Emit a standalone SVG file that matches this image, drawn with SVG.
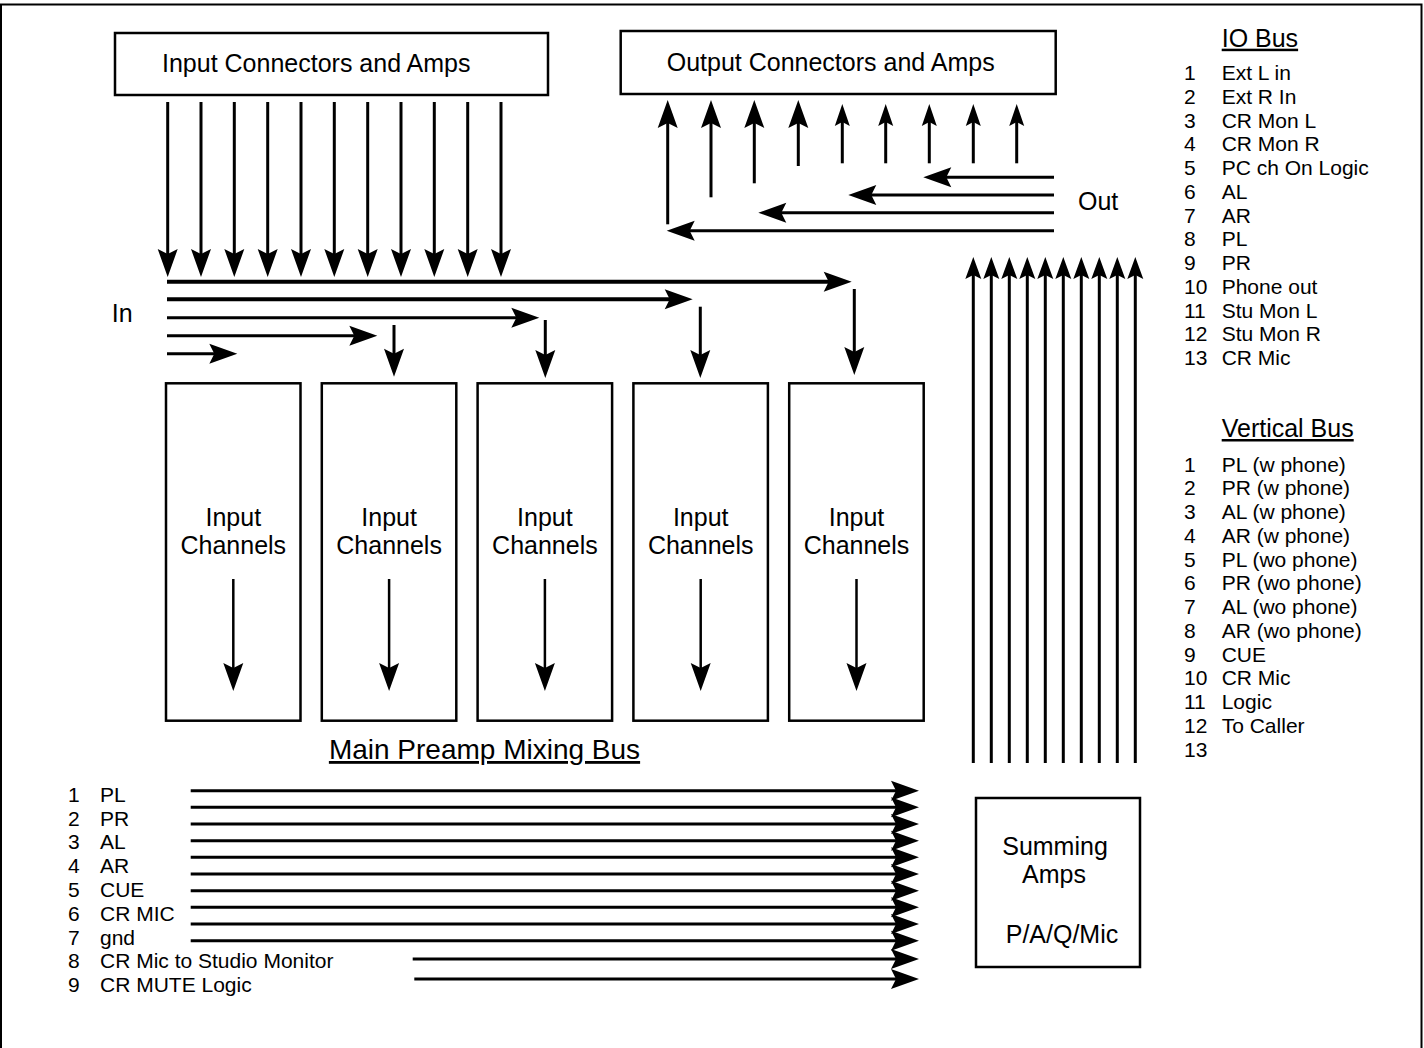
<svg xmlns="http://www.w3.org/2000/svg" width="1424" height="1048" viewBox="0 0 1424 1048">
<style>
text{font-family:"Liberation Sans",Arial,sans-serif;fill:#000}
.t25{font-size:25px}
.t28{font-size:28px}
.t21{font-size:21px}
.box{fill:#fff;stroke:#000;stroke-width:2.5}
.c{stroke:#000;stroke-width:3;fill:none}
.c4{stroke:#000;stroke-width:4;fill:none}
.c2{stroke:#000;stroke-width:2.5;fill:none}
.ab{marker-end:url(#ab)}
.as{marker-end:url(#as)}
.av{marker-end:url(#av)}
</style>
<defs>
<marker id="ab" markerUnits="userSpaceOnUse" markerWidth="28" markerHeight="20" refX="20" refY="10" orient="auto" overflow="visible"><path d="M0,0 L28,10 L0,20 L5,10 Z" fill="#000"/></marker>
<marker id="as" markerUnits="userSpaceOnUse" markerWidth="22" markerHeight="15" refX="14" refY="7.5" orient="auto" overflow="visible"><path d="M0,0 L22,7.5 L0,15 L4,7.5 Z" fill="#000"/></marker>
<marker id="av" markerUnits="userSpaceOnUse" markerWidth="22" markerHeight="16" refX="14" refY="8" orient="auto" overflow="visible"><path d="M0,0 L22,8 L0,16 L4,8 Z" fill="#000"/></marker>
</defs>
<rect x="1" y="4.5" width="1420.5" height="1050" fill="none" stroke="#000" stroke-width="2"/>

<g id="input-connectors"><rect class="box" x="115" y="33" width="433" height="62"/><text class="t25" x="162" y="72">Input Connectors and Amps</text></g>
<g id="output-connectors"><rect class="box" x="620.7" y="31" width="435" height="63"/><text class="t25" x="666.7" y="71">Output Connectors and Amps</text></g>
<g id="ch1"><rect class="box" x="166" y="383.3" width="134.5" height="337.4"/><text class="t25" text-anchor="middle" x="233.3" y="526">Input</text><text class="t25" text-anchor="middle" x="233.3" y="554">Channels</text></g>
<g id="ch2"><rect class="box" x="321.8" y="383.3" width="134.5" height="337.4"/><text class="t25" text-anchor="middle" x="389.1" y="526">Input</text><text class="t25" text-anchor="middle" x="389.1" y="554">Channels</text></g>
<g id="ch3"><rect class="box" x="477.6" y="383.3" width="134.5" height="337.4"/><text class="t25" text-anchor="middle" x="544.9" y="526">Input</text><text class="t25" text-anchor="middle" x="544.9" y="554">Channels</text></g>
<g id="ch4"><rect class="box" x="633.4" y="383.3" width="134.5" height="337.4"/><text class="t25" text-anchor="middle" x="700.7" y="526">Input</text><text class="t25" text-anchor="middle" x="700.7" y="554">Channels</text></g>
<g id="ch5"><rect class="box" x="789.2" y="383.3" width="134.5" height="337.4"/><text class="t25" text-anchor="middle" x="856.5" y="526">Input</text><text class="t25" text-anchor="middle" x="856.5" y="554">Channels</text></g>
<g id="summing"><rect class="box" x="976" y="798" width="164" height="169"/><text class="t25" text-anchor="middle" x="1055" y="855">Summing</text><text class="t25" text-anchor="middle" x="1054" y="883">Amps</text><text class="t25" text-anchor="middle" x="1062" y="943">P/A/Q/Mic</text></g>

<g id="labels">
<text class="t25" x="111.7" y="321.7">In</text>
<text class="t25" x="1078" y="210">Out</text>
<text class="t25" x="1221.7" y="46.7" text-decoration="underline">IO Bus</text>
<text class="t25" x="1221.7" y="437" text-decoration="underline">Vertical Bus</text>
<text class="t28" text-anchor="middle" x="484.5" y="759" text-decoration="underline">Main Preamp Mixing Bus</text>
</g>
<g id="io-bus-list" class="t21">
<text x="1184" y="80">1</text><text x="1221.7" y="80">Ext L in</text>
<text x="1184" y="103.75">2</text><text x="1221.7" y="103.75">Ext R In</text>
<text x="1184" y="127.5">3</text><text x="1221.7" y="127.5">CR Mon L</text>
<text x="1184" y="151.25">4</text><text x="1221.7" y="151.25">CR Mon R</text>
<text x="1184" y="175">5</text><text x="1221.7" y="175">PC ch On Logic</text>
<text x="1184" y="198.75">6</text><text x="1221.7" y="198.75">AL</text>
<text x="1184" y="222.5">7</text><text x="1221.7" y="222.5">AR</text>
<text x="1184" y="246.25">8</text><text x="1221.7" y="246.25">PL</text>
<text x="1184" y="270">9</text><text x="1221.7" y="270">PR</text>
<text x="1184" y="293.75">10</text><text x="1221.7" y="293.75">Phone out</text>
<text x="1184" y="317.5">11</text><text x="1221.7" y="317.5">Stu Mon L</text>
<text x="1184" y="341.25">12</text><text x="1221.7" y="341.25">Stu Mon R</text>
<text x="1184" y="365">13</text><text x="1221.7" y="365">CR Mic</text>
</g>
<g id="vertical-bus-list" class="t21">
<text x="1184" y="471.5">1</text><text x="1221.7" y="471.5">PL (w phone)</text>
<text x="1184" y="495.25">2</text><text x="1221.7" y="495.25">PR (w phone)</text>
<text x="1184" y="519">3</text><text x="1221.7" y="519">AL (w phone)</text>
<text x="1184" y="542.75">4</text><text x="1221.7" y="542.75">AR (w phone)</text>
<text x="1184" y="566.5">5</text><text x="1221.7" y="566.5">PL (wo phone)</text>
<text x="1184" y="590.25">6</text><text x="1221.7" y="590.25">PR (wo phone)</text>
<text x="1184" y="614">7</text><text x="1221.7" y="614">AL (wo phone)</text>
<text x="1184" y="637.75">8</text><text x="1221.7" y="637.75">AR (wo phone)</text>
<text x="1184" y="661.5">9</text><text x="1221.7" y="661.5">CUE</text>
<text x="1184" y="685.25">10</text><text x="1221.7" y="685.25">CR Mic</text>
<text x="1184" y="709">11</text><text x="1221.7" y="709">Logic</text>
<text x="1184" y="732.75">12</text><text x="1221.7" y="732.75">To Caller</text>
<text x="1184" y="756.5">13</text>
</g>
<g id="main-bus-list" class="t21">
<text x="68" y="801.7">1</text><text x="100" y="801.7">PL</text>
<text x="68" y="825.5">2</text><text x="100" y="825.5">PR</text>
<text x="68" y="849.3">3</text><text x="100" y="849.3">AL</text>
<text x="68" y="873.1">4</text><text x="100" y="873.1">AR</text>
<text x="68" y="896.9">5</text><text x="100" y="896.9">CUE</text>
<text x="68" y="920.7">6</text><text x="100" y="920.7">CR MIC</text>
<text x="68" y="944.5">7</text><text x="100" y="944.5">gnd</text>
<text x="68" y="968.3">8</text><text x="100" y="968.3">CR Mic to Studio Monitor</text>
<text x="68" y="992.1">9</text><text x="100" y="992.1">CR MUTE Logic</text>
</g>

<g id="connectors">
<g class="c ab">
<line x1="167.7" y1="102" x2="167.7" y2="269"/>
<line x1="201" y1="102" x2="201" y2="269"/>
<line x1="234.3" y1="102" x2="234.3" y2="269"/>
<line x1="267.7" y1="102" x2="267.7" y2="269"/>
<line x1="301" y1="102" x2="301" y2="269"/>
<line x1="334.3" y1="102" x2="334.3" y2="269"/>
<line x1="367.7" y1="102" x2="367.7" y2="269"/>
<line x1="401" y1="102" x2="401" y2="269"/>
<line x1="434.3" y1="102" x2="434.3" y2="269"/>
<line x1="467.7" y1="102" x2="467.7" y2="269"/>
<line x1="501" y1="102" x2="501" y2="269"/>
</g>
<line class="c4 ab" x1="167" y1="281.7" x2="843.7" y2="281.7"/>
<line class="c4 ab" x1="167" y1="299.3" x2="684.7" y2="299.3"/>
<line class="c ab" x1="167" y1="317.7" x2="531.3" y2="317.7"/>
<line class="c ab" x1="167" y1="335.7" x2="369.3" y2="335.7"/>
<line class="c ab" x1="167" y1="353.7" x2="229.3" y2="353.7"/>
<line class="c ab" x1="394" y1="325" x2="394" y2="368.7"/>
<line class="c ab" x1="545.3" y1="320" x2="545.3" y2="370"/>
<line class="c ab" x1="700.3" y1="306.7" x2="700.3" y2="370"/>
<line class="c ab" x1="854.3" y1="289" x2="854.3" y2="367"/>
<g class="c2 ab">
<line x1="233.3" y1="579" x2="233.3" y2="683"/>
<line x1="389.1" y1="579" x2="389.1" y2="683"/>
<line x1="544.9" y1="579" x2="544.9" y2="683"/>
<line x1="700.7" y1="579" x2="700.7" y2="683"/>
<line x1="856.5" y1="579" x2="856.5" y2="683"/>
</g>
<g class="c ab">
<line x1="667.7" y1="224.3" x2="667.7" y2="108"/>
<line x1="711" y1="197.3" x2="711" y2="108"/>
<line x1="754.3" y1="183.3" x2="754.3" y2="108"/>
<line x1="798.3" y1="166" x2="798.3" y2="108"/>
</g>
<g class="c as">
<line x1="842.3" y1="163.3" x2="842.3" y2="112"/>
<line x1="885.7" y1="163.3" x2="885.7" y2="112"/>
<line x1="929.3" y1="163.3" x2="929.3" y2="112"/>
<line x1="973.3" y1="163.3" x2="973.3" y2="112"/>
<line x1="1016.7" y1="163.3" x2="1016.7" y2="112"/>
</g>
<g class="c ab">
<line x1="1054" y1="177.3" x2="931.3" y2="177.3"/>
<line x1="1054" y1="195" x2="856.3" y2="195"/>
<line x1="1054" y1="212.7" x2="766.3" y2="212.7"/>
<line x1="1054" y1="230.7" x2="674.7" y2="230.7"/>
</g>
<g class="c av">
<line x1="973.3" y1="763" x2="973.3" y2="265"/>
<line x1="991.3" y1="763" x2="991.3" y2="265"/>
<line x1="1009.3" y1="763" x2="1009.3" y2="265"/>
<line x1="1027.3" y1="763" x2="1027.3" y2="265"/>
<line x1="1045.3" y1="763" x2="1045.3" y2="265"/>
<line x1="1063.3" y1="763" x2="1063.3" y2="265"/>
<line x1="1081.3" y1="763" x2="1081.3" y2="265"/>
<line x1="1099.3" y1="763" x2="1099.3" y2="265"/>
<line x1="1117.3" y1="763" x2="1117.3" y2="265"/>
<line x1="1135.3" y1="763" x2="1135.3" y2="265"/>
</g>
<g class="c ab">
<line x1="190.7" y1="790.7" x2="911" y2="790.7"/>
<line x1="190.7" y1="807.3" x2="911" y2="807.3"/>
<line x1="190.7" y1="824" x2="911" y2="824"/>
<line x1="190.7" y1="840.7" x2="911" y2="840.7"/>
<line x1="190.7" y1="857.3" x2="911" y2="857.3"/>
<line x1="190.7" y1="874" x2="911" y2="874"/>
<line x1="190.7" y1="890.7" x2="911" y2="890.7"/>
<line x1="190.7" y1="907.3" x2="911" y2="907.3"/>
<line x1="190.7" y1="924" x2="911" y2="924"/>
<line x1="190.7" y1="940.7" x2="911" y2="940.7"/>
<line x1="412.7" y1="959" x2="911" y2="959"/>
<line x1="414.3" y1="979" x2="911" y2="979"/>
</g>
</g>
</svg>
